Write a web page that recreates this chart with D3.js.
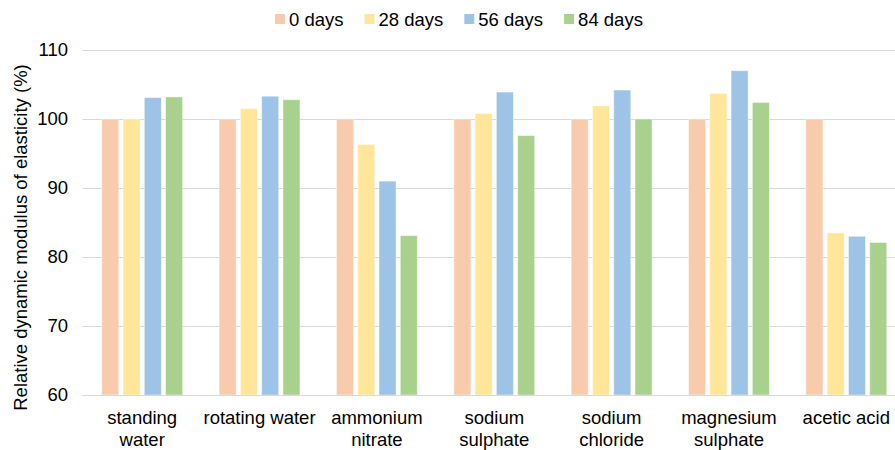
<!DOCTYPE html>
<html>
<head>
<meta charset="utf-8">
<script src="https://cdn.jsdelivr.net/npm/d3@7"></script>
<style>
  html, body { margin: 0; padding: 0; background: #fff; }
  svg { display: block; font-family: "Liberation Sans", Arial, sans-serif; }
</style>
</head>
<body>
<svg id="chart" width="895" height="450"></svg>
<script>
const categories = [
  ["standing", "water"],
  ["rotating water"],
  ["ammonium", "nitrate"],
  ["sodium", "sulphate"],
  ["sodium", "chloride"],
  ["magnesium", "sulphate"],
  ["acetic acid"]
];
const seriesNames = ["0 days", "28 days", "56 days", "84 days"];
const seriesColors = ["#F8CBAD", "#FFE699", "#9DC3E6", "#A9D18E"];
const days0  = [100, 100, 100, 100, 100, 100, 100];
const days28 = [100.0, 101.5, 96.3, 100.8, 101.9, 103.7, 83.5];
const days56 = [103.1, 103.3, 91.0, 103.9, 104.2, 107.0, 83.0];
const days84 = [103.2, 102.8, 83.1, 97.6, 100.0, 102.4, 82.1];
const yTicks = [60, 70, 80, 90, 100, 110];
const yTitle = "Relative dynamic modulus of elasticity (%)";

const seriesValues = [days0, days28, days56, days84];
const catKeys = categories.map(c => c.join(" "));

const svg = d3.select("#chart");
const plot = { left: 83.5, right: 905, top: 50, bottom: 395 };
const fontSize = 18.5;

const x0 = d3.scaleBand().domain(catKeys).range([plot.left, plot.right])
  .paddingInner(0.311).paddingOuter(0.1555);
const x1 = d3.scaleBand().domain(seriesNames).range([0, x0.bandwidth()])
  .paddingInner(0.2).paddingOuter(0);
const y = d3.scaleLinear().domain([60, 110]).range([plot.bottom, plot.top]);

// gridlines
svg.append("g").selectAll("line").data(yTicks).join("line")
  .attr("x1", plot.left - 1).attr("x2", 895)
  .attr("y1", d => Math.round(y(d)) + 0.5).attr("y2", d => Math.round(y(d)) + 0.5)
  .attr("stroke", "#d9d9d9").attr("stroke-width", 1);

// y tick labels
svg.append("g").selectAll("text").data(yTicks).join("text")
  .attr("x", 68).attr("y", d => y(d)).attr("dy", "0.35em")
  .attr("text-anchor", "end").attr("font-size", fontSize).attr("fill", "#000")
  .text(d => d);

// y title
svg.append("text")
  .attr("transform", `translate(27,${(plot.top + plot.bottom) / 2 + 15}) rotate(-90)`)
  .attr("text-anchor", "middle").attr("font-size", fontSize).attr("fill", "#000")
  .text(yTitle);

// bars
const rows = [];
catKeys.forEach((c, i) => seriesNames.forEach((s, j) => rows.push({ c, s, j, v: seriesValues[j][i] })));
svg.append("g").selectAll("rect").data(rows).join("rect")
  .attr("x", d => x0(d.c) + x1(d.s))
  .attr("y", d => y(d.v))
  .attr("width", x1.bandwidth())
  .attr("height", d => y(60) - y(d.v))
  .attr("fill", d => seriesColors[d.j])
  .attr("stroke", "rgba(255,255,255,0.45)")
  .attr("stroke-width", 1);

// bottom axis line
svg.append("line")
  .attr("x1", plot.left - 1).attr("x2", 895)
  .attr("y1", plot.bottom + 0.5).attr("y2", plot.bottom + 0.5)
  .attr("stroke", "#d9d9d9");

// category labels
const catG = svg.append("g").selectAll("text").data(categories).join("text")
  .attr("text-anchor", "middle").attr("font-size", fontSize).attr("fill", "#000")
  .attr("transform", (d, i) => `translate(${x0(catKeys[i]) + x0.bandwidth() / 2},424)`);
catG.selectAll("tspan").data(d => d).join("tspan")
  .attr("x", 0).attr("y", (d, i) => i * 22)
  .text(d => d);

// legend
const leg = svg.append("g");
let lx = 275;
seriesNames.forEach((name, j) => {
  leg.append("rect").attr("x", lx).attr("y", 14).attr("width", 10).attr("height", 10)
    .attr("fill", seriesColors[j]);
  const t = leg.append("text").attr("x", lx + 14).attr("y", 25.5)
    .attr("font-size", fontSize).attr("fill", "#000").text(name);
  lx += 14 + t.node().getComputedTextLength() + 21;
});
</script>
</body>
</html>
